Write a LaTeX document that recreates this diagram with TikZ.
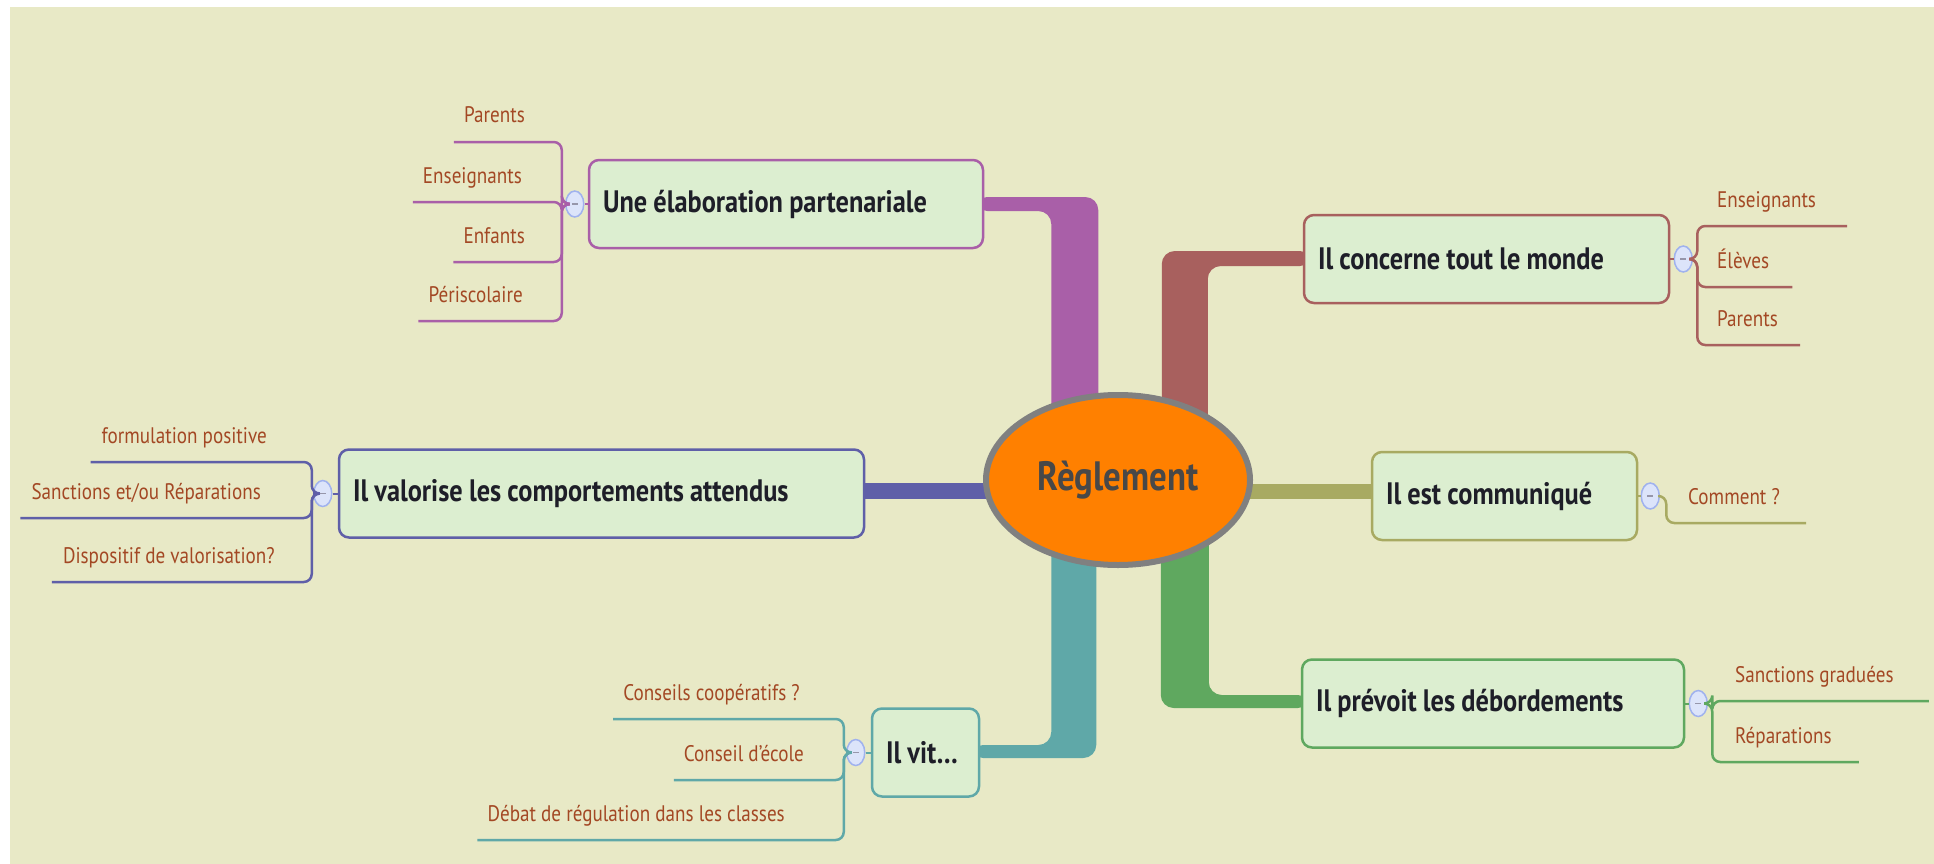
\documentclass[tikz,border=0pt]{standalone}
\usepackage{fontspec}
\setmainfont{PT Sans}[FakeStretch=0.85]
\usetikzlibrary{calc,shapes.geometric}
\pgfdeclarelayer{back}
\pgfdeclarelayer{bg}
\pgfsetlayers{back,bg,main}
\definecolor{bgc}{RGB}{232,233,198}
\definecolor{cP}{RGB}{169,95,168}
\definecolor{cR}{RGB}{168,96,94}
\definecolor{cB}{RGB}{95,95,168}
\definecolor{cO}{RGB}{168,170,98}
\definecolor{cT}{RGB}{95,168,168}
\definecolor{cG}{RGB}{95,168,95}
\definecolor{boxfill}{RGB}{220,238,208}
\definecolor{childc}{RGB}{163,72,36}
\definecolor{maintext}{RGB}{30,30,40}
\definecolor{knobfill}{RGB}{220,228,250}
\definecolor{knobdraw}{RGB}{160,178,238}
\definecolor{knobdashc}{RGB}{150,150,170}
\definecolor{centerfill}{RGB}{255,128,0}
\definecolor{centerdraw}{RGB}{128,128,128}
\definecolor{centertext}{RGB}{72,72,72}
\newcommand{\knobdash}{\textcolor{knobdashc}{\rule{6pt}{1.5pt}}}
\newcommand{\tightspaces}{\spaceskip=0.2em\relax}
\begin{document}
\begin{tikzpicture}[x=1pt,y=-1pt,
  mainbox/.style={draw=#1, line width=2.5pt, rounded corners=10pt, fill=boxfill,
    minimum height=88pt, inner xsep=14pt, inner ysep=0pt, align=left, text=maintext,
    font=\fontsize{31}{35}\selectfont\bfseries, execute at begin node=\tightspaces},
  child/.style={inner sep=0pt, text=childc, font=\fontsize{22.5}{26}\selectfont},
  knob/.style={ellipse, draw=knobdraw, line width=1.5pt, fill=knobfill,
    minimum width=18pt, minimum height=26pt, inner sep=0pt},
  brk/.style={draw=#1, line width=2.5pt, rounded corners=8pt},
  link/.style={draw=#1, line width=2pt},
]
\useasboundingbox (0,0) rectangle (1934,864);
\begin{pgfonlayer}{back}
\fill[white] (0,0) rectangle (1934,864);
\fill[bgc] (10,7) rectangle (1934,864);
\end{pgfonlayer}

% central node
\node[ellipse, draw=centerdraw, line width=6pt, fill=centerfill, minimum width=264pt,
  minimum height=170pt, inner sep=0pt, text=centertext,
  font=\fontsize{41}{46}\selectfont\bfseries] (c) at (1118,480) {Règlement};

% main boxes
\node[mainbox=cP, text width=366pt] (n1) at (786,204) {Une élaboration partenariale};
\node[mainbox=cR, text width=337pt] (n2) at (1486.5,259) {Il concerne tout le monde};
\node[mainbox=cB, text width=497pt] (n3) at (601.5,493.5) {Il valorise les comportements attendus};
\node[mainbox=cO, text width=237pt] (n4) at (1504.5,496) {Il est communiqué};
\node[mainbox=cG, text width=354pt] (n5) at (1493,703.5) {Il prévoit les débordements};
\node[mainbox=cT, text width=79pt] (n6) at (925.5,752.5) {Il vit…};

% branches
\begin{pgfonlayer}{bg}
\fill[cP, rounded corners=13pt] (n1.east) ++(-10,-7) -- ++(124,0) -- ++(0,243) -- ++(-47,0) -- ++(0,-229) -- ++(-77,0) -- cycle;
\fill[cR, rounded corners=13pt] (n2.west) ++(10,-8) -- ++(-151,0) -- ++(0,189) -- ++(46,0) -- ++(0,-174) -- ++(105,0) -- cycle;
\fill[cG, rounded corners=13pt] (n5.west) ++(10,-8.5) -- ++(-102,0) -- ++(0,-175) -- ++(-48,0) -- ++(0,188) -- ++(150,0) -- cycle;
\fill[cT, rounded corners=13pt] (n6.east) ++(-10,-7.5) -- ++(81,0) -- ++(0,-225) -- ++(45,0) -- ++(0,238) -- ++(-126,0) -- cycle;
\fill[cB] ($(n3.east)+(-5,-11)$) rectangle ($(c.west |- n3.east)+(20,5)$);
\fill[cO] ($(c.east |- n4.west)+(-20,-12)$) rectangle ($(n4.west)+(5,3)$);
\end{pgfonlayer}

% knobs and bracket points
\node[knob] (k1) at ($(n1.west)+(-13,0)$) {\knobdash};
\coordinate (b1) at ($(k1)+(-13,0)$);
\node[knob] (k2) at ($(n2.east)+(13,0)$) {\knobdash};
\coordinate (b2) at ($(k2)+(14,0)$);
\node[knob] (k3) at ($(n3.west)+(-15,0)$) {\knobdash};
\coordinate (b3) at ($(k3)+(-11,0)$);
\node[knob] (k4) at ($(n4.east)+(12,0)$) {\knobdash};
\coordinate (b4) at ($(k4)+(16,0)$);
\node[knob] (k5) at ($(n5.east)+(13,0)$) {\knobdash};
\coordinate (b5) at ($(k5)+(14,0)$);
\node[knob] (k6) at ($(n6.west)+(-15,0)$) {\knobdash};
\coordinate (b6) at ($(k6)+(-12,0)$);

\draw[link=cP] (k1) -- (n1.west);
\draw[link=cR] (k2) -- (n2.east);
\draw[link=cB] (k3) -- (n3.west);
\draw[link=cO] (k4) -- (n4.east);
\draw[link=cG] (k5) -- (n5.east);
\draw[link=cT] (k6) -- (n6.west);

% children of n1
\node[child, anchor=base east] (t11) at (525,123) {Parents};
\node[child, anchor=base east] (t12) at (522,183) {Enseignants};
\node[child, anchor=base east] (t13) at (525,243) {Enfants};
\node[child, anchor=base east] (t14) at (523,302) {Périscolaire};
\foreach \t in {t11,t12,t13,t14}
  \draw[brk=cP] ($(\t.base west)+(-10,19)$) -| (b1) -- (k1);

% children of n2
\node[child, anchor=base west] (t21) at (1717,207) {Enseignants};
\node[child, anchor=base west] (t22) at (1717,268) {Élèves};
\node[child, anchor=base west] (t23) at (1717,326) {Parents};
\draw[brk=cR] ($(t21.base east)+(31,19)$) -| (b2) -- (k2);
\draw[brk=cR] ($(t22.base east)+(23,19)$) -| (b2) -- (k2);
\draw[brk=cR] ($(t23.base east)+(22,19)$) -| (b2) -- (k2);

% children of n3
\node[child, anchor=base east] (t31) at (267,443) {formulation positive};
\node[child, anchor=base east] (t32) at (261,499) {Sanctions et/ou Réparations};
\node[child, anchor=base east] (t33) at (275,563) {Dispositif de valorisation?};
\foreach \t in {t31,t32,t33}
  \draw[brk=cB] ($(\t.base west)+(-11,19)$) -| (b3) -- (k3);

% child of n4
\node[child, anchor=base west] (t41) at (1688,504) {Comment~?};
\draw[brk=cO] ($(t41.base east)+(26,19)$) -| (b4) -- (k4);

% children of n5
\node[child, anchor=base west] (t51) at (1735,682) {Sanctions graduées};
\node[child, anchor=base west] (t52) at (1735,743) {Réparations};
\draw[brk=cG] ($(t51.base east)+(35,19)$) -| (b5) -- (k5);
\draw[brk=cG] ($(t52.base east)+(27,19)$) -| (b5) -- (k5);

% children of n6
\node[child, anchor=base east] (t61) at (800,700) {Conseils coopératifs~?};
\node[child, anchor=base east] (t62) at (804,761) {Conseil d'école};
\node[child, anchor=base east] (t63) at (785,821) {Débat de régulation dans les classes};
\foreach \t in {t61,t62,t63}
  \draw[brk=cT] ($(\t.base west)+(-10,19)$) -| (b6) -- (k6);
\end{tikzpicture}
\end{document}
